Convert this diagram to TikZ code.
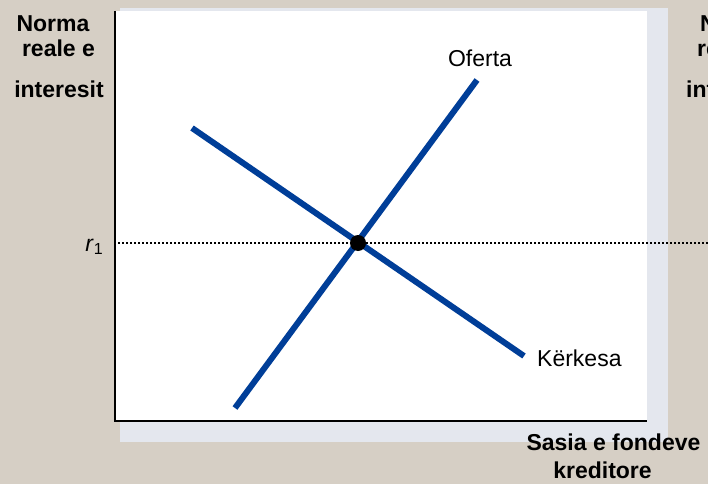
\documentclass[tikz,border=0pt]{standalone}
\usepackage{fontspec}
\setmainfont{Liberation Sans}
\definecolor{bg}{HTML}{D6CFC5}
\definecolor{shadowcol}{HTML}{E4E7EE}
\definecolor{curveblue}{HTML}{003E98}
\tikzset{
  curve/.style={line width=6pt, color=curveblue},
  axisline/.style={line width=2pt, black},
  lbl/.style={font=\fontsize{23}{27}\selectfont, inner sep=0pt},
  blbl/.style={font=\fontsize{23}{27}\selectfont\bfseries, inner sep=0pt},
}
\begin{document}
\begin{tikzpicture}[x=1pt,y=-1pt]
\useasboundingbox (0,0) rectangle (708,484);
\clip (0,0) rectangle (708,484);
\fill[bg] (0,0) rectangle (708,484);
% shadow and plot area
\fill[shadowcol] (120,8) rectangle (668,442);
\fill[white] (115,11) rectangle (647,421);
% axes
\coordinate (o) at (115,421);
\coordinate (ytop) at (115,11);
\coordinate (xend) at (647,421);
\draw[axisline] (ytop) -- (o) -- (xend);
% dotted r1 line
\coordinate (dl) at (118,243);
\coordinate (dr) at (708,243);
\draw[line width=2pt, dash pattern=on 2pt off 2pt] (dl) -- (dr);
% curves
\coordinate (d1) at (192,128);
\coordinate (d2) at (524,356);
\coordinate (s1) at (235,408);
\coordinate (s2) at (477,80);
\draw[curve] (d1) -- (d2);
\draw[curve] (s1) -- (s2);
\node[circle, fill=black, minimum size=16pt, inner sep=0pt] (eq) at (358,243) {};
% labels
\node[lbl, anchor=base] (oferta) at (480,67) {Oferta};
\node[lbl, anchor=base west] (kerkesa) at (537,366) {Kërkesa};
\node[lbl, anchor=base east] (r1) at (103,251) {\textit{r}\raisebox{-3pt}{\fontsize{16}{18}\selectfont 1}};
\node[blbl, anchor=base] (yl1) at (53,32) {Norma};
\node[blbl, anchor=base] (yl2) at (58.5,57) {reale e};
\node[blbl, anchor=base] (yl3) at (59,97) {interesit};
\node[blbl, anchor=base west] (yr1) at (700,32) {Norma};
\node[blbl, anchor=base west] (yr2) at (697,57) {reale e};
\node[blbl, anchor=base west] (yr3) at (686,97) {interesit};
\node[blbl, anchor=base] (xl1) at (613.5,450) {Sasia e fondeve};
\node[blbl, anchor=base] (xl2) at (602.5,478) {kreditore};
\end{tikzpicture}
\end{document}
